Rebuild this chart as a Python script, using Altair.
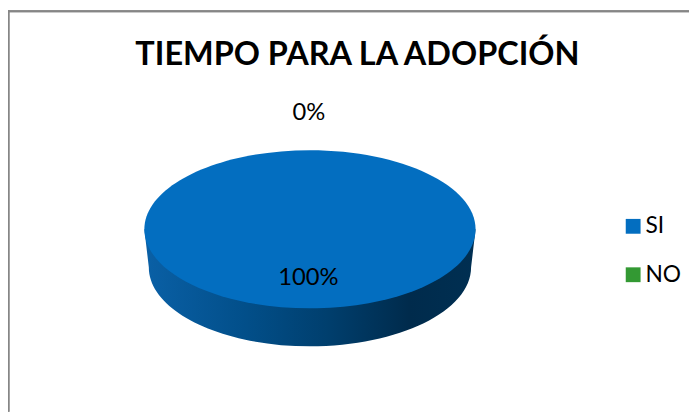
import altair as alt
import pandas as pd

categories = ["SI", "NO"]
values = [100, 0]
title_text = "TIEMPO PARA LA ADOPCIÓN"

df = pd.DataFrame({"categoria": categories, "valor": values})
df["pct"] = df["valor"] / 100

FONT = "Lato"
W, H = 689, 406
CX, CY = 305.5, 221.5

TOP_SHAPE = "M -1 0 A 1 0.4773 0 1 1 1 0 A 1 0.4773 0 1 1 -1 0 Z"
SIDE_SHAPE = "M -1 0 L -0.973 0.2296 A 0.973 0.4773 0 0 0 0.973 0.2296 L 1 0 Z"

size_scale = alt.Size("valor:Q", scale=alt.Scale(domain=[0, 100], range=[0, 112300]), legend=None)

side = alt.Chart(df).mark_point(
    shape=SIDE_SHAPE, filled=True, opacity=1, strokeWidth=0,
    fill=alt.Gradient(
        gradient="linear", x1=0, x2=1, y1=0, y2=0,
        stops=[
            alt.GradientStop(color="#0a60a6", offset=0),
            alt.GradientStop(color="#024f8a", offset=0.3),
            alt.GradientStop(color="#003f6e", offset=0.55),
            alt.GradientStop(color="#002b4c", offset=0.8),
            alt.GradientStop(color="#002f52", offset=1),
        ],
    ),
).encode(x=alt.value(CX), y=alt.value(CY), size=size_scale)

top = alt.Chart(df).mark_point(
    shape=TOP_SHAPE, filled=True, opacity=1, strokeWidth=0
).encode(
    x=alt.value(CX), y=alt.value(CY), size=size_scale,
    color=alt.Color(
        "categoria:N",
        scale=alt.Scale(domain=categories, range=["#036ec0", "#339933"]),
        legend=alt.Legend(
            title=None, orient="none", legendX=621, legendY=207, padding=0,
            symbolType="square", symbolSize=225, symbolStrokeWidth=0, symbolOpacity=1,
            labelFont=FONT, labelFontSize=23, labelColor="#000000", labelOffset=1,
            rowPadding=25,
        ),
    ),
)

labels = alt.Chart(df).mark_text(
    font=FONT, fontSize=24, color="#000000", baseline="middle", align="center"
).encode(
    x=alt.X("categoria:N", scale=alt.Scale(domain=categories, range=[304, 304.5], padding=0), axis=None),
    y=alt.Y("categoria:N", scale=alt.Scale(domain=categories, range=[271, 104], padding=0), axis=None),
    text=alt.Text("pct:Q", format=".0%"),
)

frame_top = alt.Chart(df).mark_rule(color="#868686", strokeWidth=2).encode(
    x=alt.value(0), x2=alt.value(W), y=alt.value(1)
)
frame_left = alt.Chart(df).mark_rule(color="#868686", strokeWidth=2).encode(
    x=alt.value(0.5), y=alt.value(0), y2=alt.value(H)
)

chart = alt.layer(
    frame_top, frame_left, side, top, labels
).properties(
    width=W, height=H, padding=0, autosize=alt.AutoSizeParams(type="none"),
    background="#ffffff",
    title=alt.TitleParams(
        title_text, font=FONT, fontSize=32.8, fontWeight="bold", color="#000000",
        anchor="middle", dx=9, dy=63, offset=0,
    ),
).configure_view(stroke=None)

chart.save("out.html", embed_options={"renderer": "svg", "actions": False})
